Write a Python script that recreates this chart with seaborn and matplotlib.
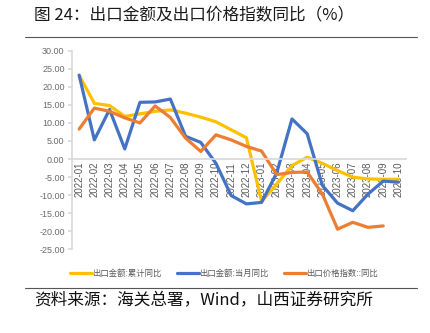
import matplotlib
matplotlib.use("Agg")
import matplotlib.pyplot as plt
import seaborn as sns
import numpy as np
import pandas as pd
from matplotlib.lines import Line2D

months = ["2022-01", "2022-02", "2022-03", "2022-04", "2022-05", "2022-06", "2022-07",
          "2022-08", "2022-09", "2022-10", "2022-11", "2022-12", "2023-01", "2023-02",
          "2023-03", "2023-04", "2023-05", "2023-06", "2023-07", "2023-08", "2023-09", "2023-10"]
cum_yoy = [23.2, 15.4, 14.8, 11.8, 12.5, 13.2, 13.6, 12.7, 11.6, 10.3, 8.1, 5.9,
           -11.7, -6.9, -1.8, 0.5, -1.2, -3.2, -5.0, -5.5, -5.6, -5.6]
mon_yoy = [23.2, 5.3, 13.7, 2.8, 15.7, 15.8, 16.6, 6.3, 4.6, -1.2, -10.1, -12.4,
           -12.0, -3.8, 11.1, 7.0, -7.3, -12.2, -14.3, -9.7, -6.1, -6.4]
price_yoy = [8.3, 14.1, 13.2, 11.4, 10.0, 14.7, 11.5, 5.8, 2.1, 6.7, 5.3, 3.5,
             2.2, -4.3, -3.7, -3.6, -9.7, -19.4, -17.5, -18.9, -18.5, np.nan]
series_names = ["出口金额:累计同比", "出口金额:当月同比", "出口价格指数::同比"]
colors = ["#FFC000", "#4472C4", "#ED7D31"]
yticks = [30, 25, 20, 15, 10, 5, 0, -5, -10, -15, -20, -25]

sns.set_theme(style="white")
plt.rcParams['font.family'] = ['Noto Sans CJK SC', 'DejaVu Sans']
plt.rcParams['axes.unicode_minus'] = False

frames = []
for name, vals in zip(series_names, [cum_yoy, mon_yoy, price_yoy]):
    frames.append(pd.DataFrame({"idx": np.arange(len(months)), "value": vals, "series": name}))
df = pd.concat(frames, ignore_index=True)

fig = plt.figure(figsize=(4.31, 3.33), dpi=100)
ax = fig.add_axes([0.166, 0.251, 0.776, 0.597])

sns.lineplot(data=df, x="idx", y="value", hue="series", hue_order=series_names,
             palette=colors, linewidth=2.3, sort=False, ax=ax, legend=False)

# spines first (set_position resets the ticks)
for s in ["top", "right"]:
    ax.spines[s].set_visible(False)
ax.spines["bottom"].set_position(("data", 0))
ax.spines["bottom"].set_color("#D9D9D9")
ax.spines["left"].set_color("#D9D9D9")

ax.set_xlim(-0.5, len(months) - 0.5)
ax.set_ylim(-25, 30)
ax.set_yticks(yticks)
ax.set_yticklabels([f"{v:.2f}" for v in yticks])
ax.set_xticks(np.arange(len(months)))
ax.set_xticklabels(months)
ax.set_xlabel("")
ax.set_ylabel("")

ax.tick_params(axis="x", which="both", length=3, color="#D9D9D9", pad=2,
               direction="in", labelrotation=90, labelsize=7, labelcolor="#595959",
               labelfontfamily="Liberation Sans")
ax.tick_params(axis="y", which="both", length=3, color="#D9D9D9", pad=2, left=True,
               direction="out", labelsize=6.5, labelcolor="#6b6b6b",
               labelfontfamily="Liberation Sans")
ax.grid(False)

handles = [Line2D([0], [0], color=c, lw=2.3) for c in colors]
fig.legend(handles, series_names, loc="center", bbox_to_anchor=(0.52, 0.18), ncol=3,
           frameon=False, fontsize=6, labelcolor="#595959", handlelength=2.6,
           columnspacing=1.8, handletextpad=0.1)

fig.text(0.08, 0.953, "图 24：出口金额及出口价格指数同比（%）", fontsize=12, color="#1a1a1a",
         va="center", ha="left")
fig.add_artist(Line2D([0.058, 0.968], [0.888, 0.888], color="#555555", lw=0.8,
                      transform=fig.transFigure))
fig.add_artist(Line2D([0.058, 0.968], [0.135, 0.135], color="#555555", lw=0.8,
                      transform=fig.transFigure))
fig.text(0.08, 0.097, "资料来源：海关总署，Wind，山西证券研究所", fontsize=12, color="#111111",
         va="center", ha="left")

fig.savefig("out.png", dpi=100)
